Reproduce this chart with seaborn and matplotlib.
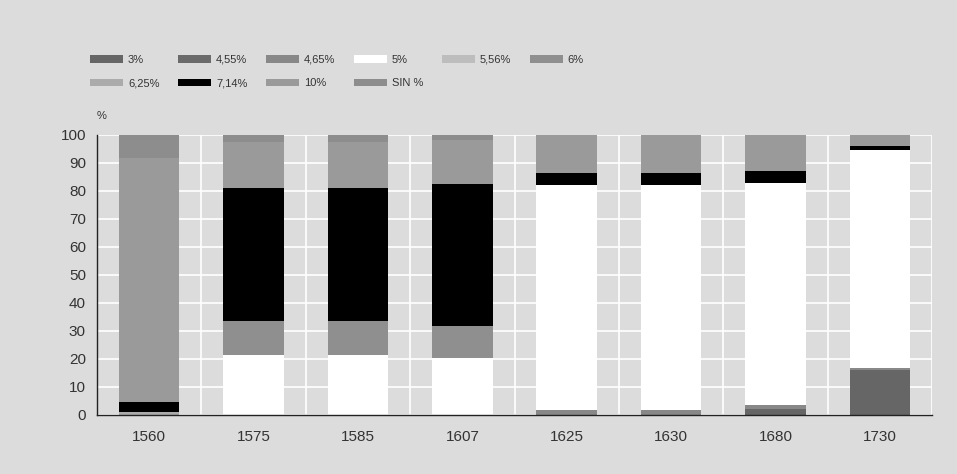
import matplotlib
matplotlib.use("Agg")
import matplotlib.pyplot as plt
from matplotlib.patches import Patch
import numpy as np
import pandas as pd
import seaborn as sns

years = ["1560", "1575", "1585", "1607", "1625", "1630", "1680", "1730"]
rates = ["3%", "4,55%", "4,65%", "5%", "5,56%", "6%", "6,25%", "7,14%", "10%", "SIN %"]
colors = ["#666666", "#6b6b6b", "#888888", "#ffffff", "#bdbdbd",
          "#8f8f8f", "#ababab", "#000000", "#9a9a9a", "#8d8d8d"]

# share of each interest rate per year (%), bottom to top
r3 = [0, 0, 0, 0, 0, 0, 2.2, 16.1]
r455 = [0, 0, 0, 0, 0, 0, 0, 0]
r465 = [0, 0, 0, 0, 1.8, 1.8, 1.5, 0.7]
r5 = [0, 21.3, 21.3, 20.2, 80.2, 80.2, 79.3, 77.8]
r556 = [0, 0.3, 0.3, 0.3, 0, 0, 0, 0]
r6 = [0, 12.0, 12.0, 11.3, 0, 0, 0, 0]
r625 = [1.0, 0, 0, 0, 0, 0, 0, 0]
r714 = [3.8, 47.5, 47.5, 50.6, 4.5, 4.5, 4.3, 1.5]
r10 = [87.0, 16.5, 16.5, 15.7, 13.5, 13.5, 12.7, 3.9]
sin = [8.2, 2.4, 2.4, 1.9, 0, 0, 0, 0]

series = [r3, r455, r465, r5, r556, r6, r625, r714, r10, sin]

rows = []
for rate, vals in zip(rates, series):
    for y, v in zip(years, vals):
        rows.append({"year": y, "rate": rate, "value": v})
df = pd.DataFrame(rows)
df["rate"] = pd.Categorical(df["rate"], categories=rates, ordered=True)
df = df.sort_values(["year", "rate"])
df["cum"] = df.groupby("year")["value"].cumsum()

bg = "#dcdcdc"
txt = "#333333"
sns.set_style("white")
plt.rcParams["font.family"] = ["Liberation Sans", "DejaVu Sans"]

fig = plt.figure(figsize=(9.57, 4.74), dpi=100, facecolor=bg)
ax = fig.add_axes([0.1014, 0.1245, 0.8725, 0.5907])
ax.set_facecolor(bg)

# draw cumulative totals from top layer down so lower layers cover them
for rate, col in reversed(list(zip(rates, colors))):
    sub = df[df["rate"] == rate]
    sns.barplot(data=sub, x="year", y="cum", order=years, color=col,
                saturation=1, width=0.58, linewidth=0, ax=ax)

ax.set_ylim(0, 100)
ax.set_xlim(-0.5, 7.5)
ax.set_yticks(np.arange(0, 101, 10))
ax.set_xticks(np.arange(-0.5, 7.6, 1), minor=True)
ax.set_axisbelow(True)
ax.grid(axis="y", which="major", color="white", linewidth=1.2)
ax.grid(axis="x", which="minor", color="white", linewidth=1.2)
ax.grid(axis="x", which="major", visible=False)
ax.set_xlabel("")
ax.set_ylabel("")
for s in ["top", "right"]:
    ax.spines[s].set_visible(False)
for s in ["left", "bottom"]:
    ax.spines[s].set_color("#222222")
    ax.spines[s].set_linewidth(1.0)
ax.tick_params(axis="both", which="both", length=0, labelsize=11, labelcolor=txt)
ax.tick_params(axis="y", pad=8)
ax.tick_params(axis="x", pad=11)
ax.text(0.0, 1.05, "%", transform=ax.transAxes, fontsize=8, color=txt, va="bottom")

# legend is filled column by column, so reorder to read row by row
ncol = 6
nrow = 2
order = []
for c in range(ncol):
    for r in range(nrow):
        i = r * ncol + c
        if i < len(rates):
            order.append(i)
handles = [Patch(facecolor=colors[i], edgecolor="none") for i in order]
labels = [rates[i] for i in order]
fig.legend(handles, labels, loc="upper left", bbox_to_anchor=(0.094, 0.885),
           ncol=ncol, frameon=False, handlelength=2.97, handleheight=0.7,
           handletextpad=0.45, columnspacing=1.67, labelspacing=1.25,
           borderpad=0, borderaxespad=0, prop={"size": 8}, labelcolor=txt)

fig.savefig("out.png", dpi=100, facecolor=bg)
